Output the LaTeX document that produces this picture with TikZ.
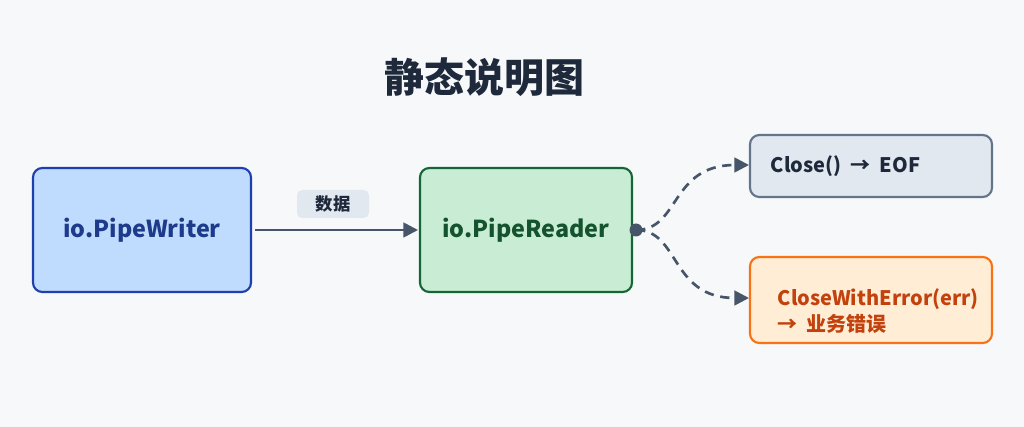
\documentclass[tikz,border=0pt]{standalone}
\usepackage{fontspec}
\setmainfont{Noto Sans CJK SC}
\usetikzlibrary{arrows.meta}
\definecolor{bgc}{RGB}{246,248,250}
\definecolor{inkc}{RGB}{71,85,105}
\definecolor{titlec}{RGB}{30,41,59}
\tikzset{
  box/.style={rounded corners=7pt, line width=1.6pt, inner sep=0pt},
  lbl/.style={font=\bfseries\fontsize{17.5}{21}\selectfont},
  link/.style={draw=inkc, line width=2pt, -{Triangle[length=11pt,width=11pt]}},
}
\begin{document}
\begin{tikzpicture}[x=0.75pt,y=0.75pt,yscale=-1,xscale=1]
%background
\fill[bgc] (0,0) rectangle (1024,427);
% Title
\node (title) at (484,77) {\bfseries\fontsize{30}{34}\selectfont\color{titlec}静态说明图};
% Boxes
\draw[box, draw={rgb,255:red,30;green,64;blue,175}, fill={rgb,255:red,191;green,219;blue,254}] (33,168) rectangle (251,292);
\node[lbl, text={rgb,255:red,30;green,58;blue,138}] (writer) at (142,230) {io.PipeWriter};
\draw[box, draw={rgb,255:red,22;green,101;blue,52}, fill={rgb,255:red,200;green,236;blue,212}] (420,168) rectangle (632,292);
\node[lbl, text={rgb,255:red,20;green,83;blue,45}] (reader) at (526,230) {io.PipeReader};
\draw[box, draw={rgb,255:red,100;green,116;blue,139}, fill={rgb,255:red,226;green,232;blue,240}] (750,135) rectangle (992,197);
\node[font=\bfseries\fontsize{15}{18}\selectfont, text=titlec, anchor=west] (eof) at (766,166) {Close()\ \ →\ \ EOF};
\draw[box, draw={rgb,255:red,249;green,115;blue,22}, fill={rgb,255:red,255;green,237;blue,213}] (750,257) rectangle (992,343);
\node[font=\bfseries\fontsize{15}{20}\selectfont, text={rgb,255:red,194;green,65;blue,12}, anchor=west, align=left] (err) at (773,311) {CloseWithError(err)\\→\ \ 业务错误};
% Data label
\fill[rounded corners=4pt, fill={rgb,255:red,226;green,232;blue,240}] (297,190) rectangle (369,218);
\node[font=\bfseries\fontsize{13}{15}\selectfont, text=titlec] (data) at (333,204) {数据};
% Connectors
\coordinate (wout) at (255,230);
\coordinate (rin) at (418,230);
\coordinate (dot) at (636,230);
\coordinate (eofin) at (749,165);
\coordinate (errin) at (749,298);
\draw[link] (wout) -- (rin);
\fill[inkc] (dot) circle (6.5);
\draw[link, dash pattern=on 7pt off 5pt] (dot) .. controls (680,230) and (670,165) .. (eofin);
\draw[link, dash pattern=on 7pt off 5pt] (dot) .. controls (680,230) and (670,298) .. (errin);
\end{tikzpicture}
\end{document}
